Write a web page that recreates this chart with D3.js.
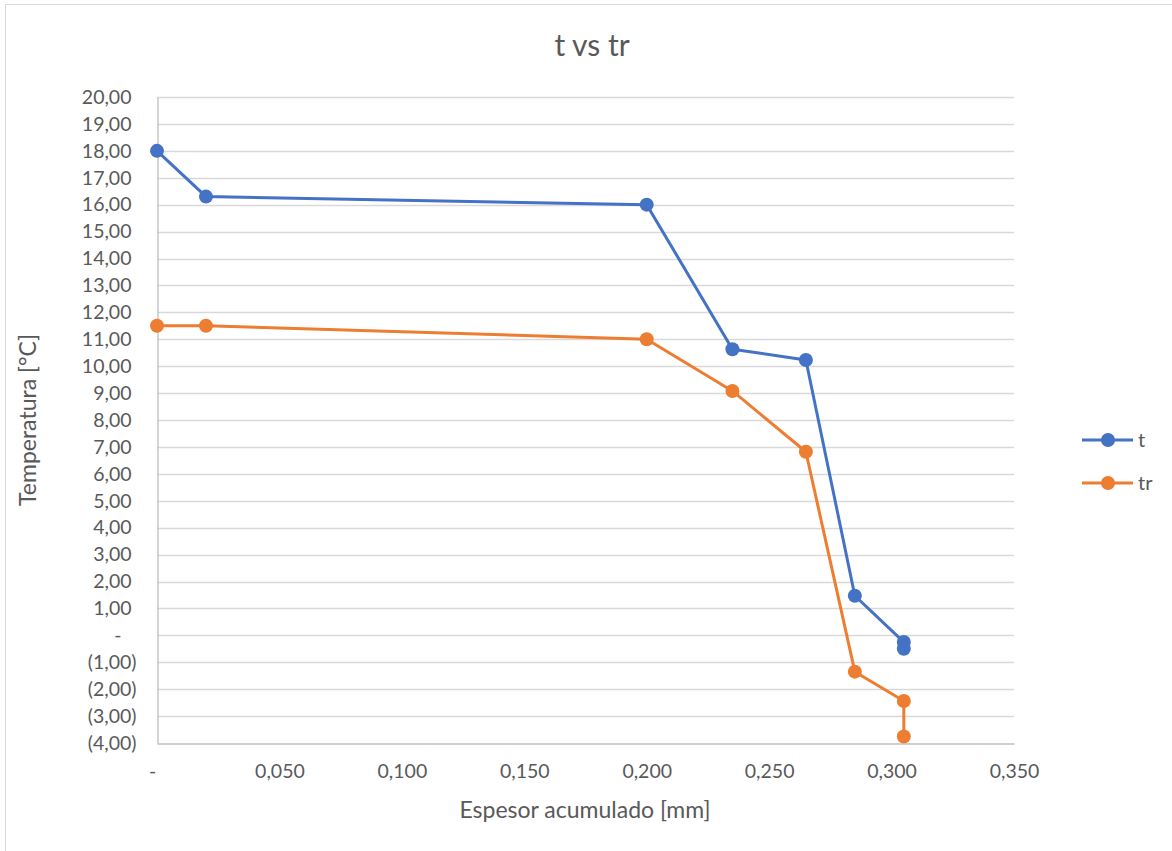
<!DOCTYPE html>
<html>
<head>
<meta charset="utf-8">
<script src="https://cdn.jsdelivr.net/npm/d3@7"></script>
<style>
  html, body { margin: 0; padding: 0; background: #fff; }
  svg { display: block; font-family: Lato, "Open Sans", sans-serif; }
</style>
</head>
<body>
<svg id="chart" width="1172" height="851"></svg>
<script>
// Accumulated thickness [mm]
const espesor = [0, 0.020, 0.200, 0.235, 0.265, 0.285, 0.305, 0.305];
// Temperatures [°C]
const tValues  = [18.0, 16.3, 16.0, 10.63, 10.23, 1.47, -0.25, -0.5];
const trValues = [11.5, 11.5, 11.0, 9.08, 6.82, -1.35, -2.44, -3.76];

const seriesNames = ["t", "tr"];
const seriesColors = ["#4472C4", "#ED7D31"];

const yTicks = d3.range(-4, 21, 1);
const xTicks = [0, 0.05, 0.10, 0.15, 0.20, 0.25, 0.30, 0.35];

const svg = d3.select("#chart");
const W = 1172, H = 851;
const plot = { left: 157, right: 1014, top: 97, bottom: 743 };

const textColor = "#595959";
const gridColor = "#D9D9D9";
const axisColor = "#BFBFBF";
const fontFam = "Lato, 'Open Sans', sans-serif";

// chart frame (left and top edges visible)
svg.append("rect")
  .attr("x", 5.5).attr("y", 4.5)
  .attr("width", W + 10).attr("height", H + 10)
  .attr("fill", "#fff").attr("stroke", "#D9D9D9").attr("stroke-width", 1);

const x = d3.scaleLinear().domain([0, 0.35]).range([plot.left, plot.right]);
const y = d3.scaleLinear().domain([-4, 20]).range([plot.bottom, plot.top]);

// accounting-style number format: parentheses for negatives, dash for zero
const fmtY = v => {
  if (Math.abs(v) < 1e-9) return "-";
  const s = Math.abs(v).toFixed(2).replace(".", ",");
  return v < 0 ? "(" + s + ")" : s;
};
const fmtX = v => (Math.abs(v) < 1e-9 ? "-" : v.toFixed(3).replace(".", ","));

// horizontal gridlines
svg.append("g")
  .selectAll("line")
  .data(yTicks.filter(d => d !== -4))
  .join("line")
  .attr("x1", plot.left).attr("x2", plot.right)
  .attr("y1", d => Math.round(y(d)) + 0.5).attr("y2", d => Math.round(y(d)) + 0.5)
  .attr("stroke", gridColor).attr("stroke-width", 1.3);

// y axis
const yAxis = svg.append("g")
  .attr("transform", `translate(${plot.left + 0.5},0)`)
  .call(d3.axisLeft(y).tickValues(yTicks).tickFormat(fmtY).tickSize(0).tickPadding(26));
yAxis.select(".domain").attr("stroke", axisColor).attr("stroke-width", 1.3);
yAxis.selectAll("text")
  .attr("fill", textColor).attr("font-size", 19.5)
  .attr("font-family", fontFam)
  .attr("dx", d => (d < 0 ? 5 : d === 0 ? -10 : 0));

// x axis
const xAxis = svg.append("g")
  .attr("transform", `translate(0,${plot.bottom + 0.5})`)
  .call(d3.axisBottom(x).tickValues(xTicks).tickFormat(fmtX).tickSize(0).tickPadding(21));
xAxis.select(".domain").attr("stroke", axisColor).attr("stroke-width", 1.3);
xAxis.selectAll("text")
  .attr("fill", textColor).attr("font-size", 19.5)
  .attr("font-family", fontFam)
  .attr("dx", d => (d === 0 ? -5 : 0));

// titles
svg.append("text")
  .attr("x", 592).attr("y", 56)
  .attr("text-anchor", "middle")
  .attr("fill", textColor).attr("font-size", 30)
  .text("t vs tr");

svg.append("text")
  .attr("transform", `translate(36,${(plot.top + plot.bottom) / 2}) rotate(-90)`)
  .attr("text-anchor", "middle")
  .attr("fill", textColor).attr("font-size", 23)
  .text("Temperatura [°C]");

svg.append("text")
  .attr("x", 585).attr("y", 818)
  .attr("text-anchor", "middle")
  .attr("fill", textColor).attr("font-size", 23)
  .text("Espesor acumulado [mm]");

// series
const series = [tValues, trValues];
const line = d3.line().x(d => x(d[0])).y(d => y(d[1]));

series.forEach((vals, i) => {
  const pts = espesor.map((e, j) => [e, vals[j]]);
  const g = svg.append("g");
  g.append("path")
    .attr("d", line(pts))
    .attr("fill", "none")
    .attr("stroke", seriesColors[i])
    .attr("stroke-width", 3)
    .attr("stroke-linejoin", "round");
  g.selectAll("circle")
    .data(pts)
    .join("circle")
    .attr("cx", d => x(d[0])).attr("cy", d => y(d[1]))
    .attr("r", 7)
    .attr("fill", seriesColors[i]);
});

// legend
const legend = svg.append("g");
seriesNames.forEach((name, i) => {
  const ly = 440 + i * 43;
  legend.append("line")
    .attr("x1", 1082).attr("x2", 1133).attr("y1", ly).attr("y2", ly)
    .attr("stroke", seriesColors[i]).attr("stroke-width", 3);
  legend.append("circle")
    .attr("cx", 1108).attr("cy", ly).attr("r", 7)
    .attr("fill", seriesColors[i]);
  legend.append("text")
    .attr("x", 1138).attr("y", ly + 7)
    .attr("fill", textColor).attr("font-size", 20)
    .text(name);
});
</script>
</body>
</html>
